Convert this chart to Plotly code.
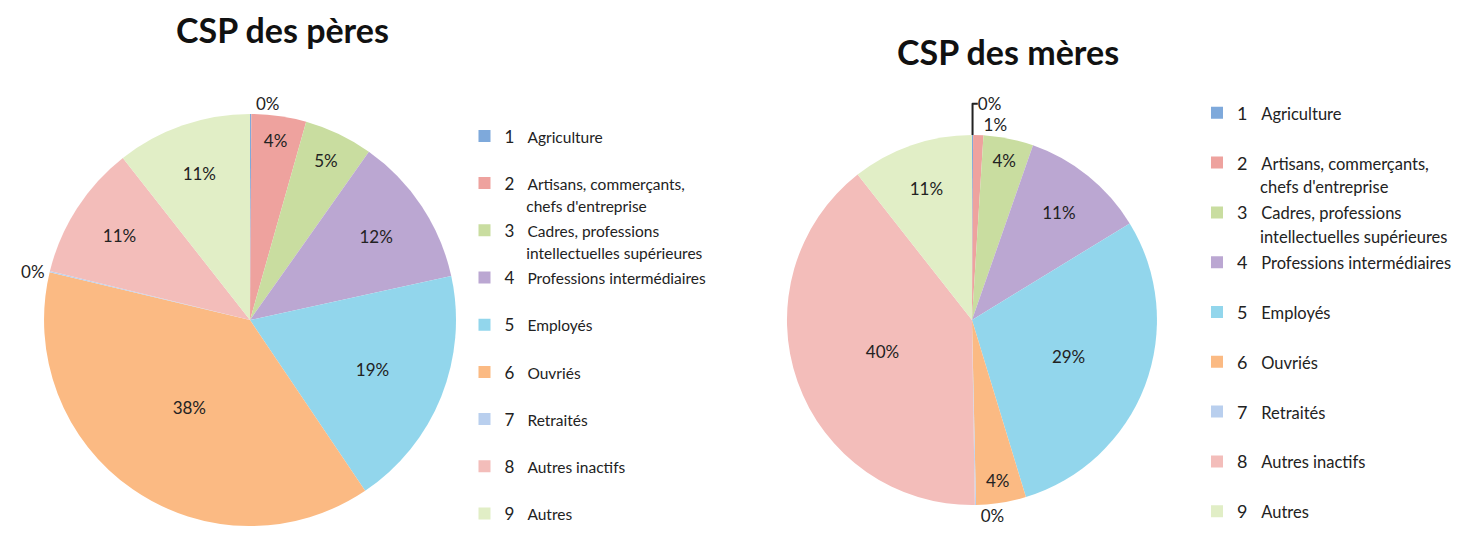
import plotly.graph_objects as go

# categories (codes + names)
codes = ["1", "2", "3", "4", "5", "6", "7", "8", "9"]
names = [
    "Agriculture",
    "Artisans, commerçants,<br>chefs d'entreprise",
    "Cadres, professions<br>intellectuelles supérieures",
    "Professions intermédiaires",
    "Employés",
    "Ouvriés",
    "Retraités",
    "Autres inactifs",
    "Autres",
]
# shares (%)
peres = [0.1, 4.3, 5.4, 11.8, 19.0, 38.2, 0.1, 10.6, 10.6]
meres = [0.1, 0.9, 4.4, 11.0, 29.3, 4.4, 0.1, 40.0, 10.7]

colors = ["#7ea9db", "#eea29e", "#c9dda0", "#bba7d2", "#92d6ec",
          "#fbba83", "#b9cfee", "#f3bdba", "#e1eec6"]

font = "Lato"


def legend_labels(num_size, txt_size):
    out = []
    for i, (c, n) in enumerate(zip(codes, names)):
        parts = n.split("<br>")
        first = (f"<span style='font-size:{num_size}px'>{c}</span>&nbsp;&nbsp;&nbsp;"
                 f"<span style='font-size:{txt_size}px'>{parts[0]}</span>")
        if len(parts) > 1:
            second = (f"<span style='font-size:{num_size}px'>&nbsp;&nbsp;&nbsp;&nbsp;&nbsp;</span>"
                      f"<span style='font-size:{txt_size}px'>{parts[1]}</span>")
            out.append(first + "<br>" + second)
        elif i < len(codes) - 1:
            out.append(first + "<br>&nbsp;")
        else:
            out.append(first)
    return out


def text_pos(vals):
    return ["outside" if v < 1 else "inside" for v in vals]


fig = go.Figure()

fig.add_trace(go.Pie(
    labels=legend_labels(17, 15.5),
    values=peres,
    sort=False,
    direction="clockwise",
    marker=dict(colors=colors, line=dict(width=0)),
    texttemplate="%{percent:.0%}",
    textposition=text_pos(peres),
    insidetextorientation="horizontal",
    textfont=dict(family=font, size=17, color="#222"),
    domain=dict(x=[0.0246, 0.3058], y=[0.0460, 0.8048]),
    legend="legend",
    hoverinfo="label+percent",
))

fig.add_trace(go.Pie(
    labels=legend_labels(18, 16.5),
    values=meres,
    sort=False,
    direction="clockwise",
    marker=dict(colors=colors, line=dict(width=0)),
    texttemplate="%{percent:.0%}",
    textposition=text_pos(meres),
    insidetextorientation="horizontal",
    textfont=dict(family=font, size=17, color="#222"),
    domain=dict(x=[0.5317, 0.7843], y=[0.0847, 0.7661]),
    legend="legend2",
    hoverinfo="label+percent",
))

fig.update_layout(
    width=1465, height=543,
    margin=dict(l=0, r=0, t=0, b=0, autoexpand=False),
    paper_bgcolor="white",
    font=dict(family=font, color="#222"),
    legend=dict(x=0.3116, y=0.7968, xanchor="left", yanchor="top",
                valign="top", maxheight=1.0, font=dict(size=17, family=font)),
    legend2=dict(x=0.8116, y=0.8405, xanchor="left", yanchor="top",
                 valign="top", maxheight=1.0, font=dict(size=18, family=font)),
    annotations=[
        dict(text="<b>CSP des pères</b>", x=0.1877, y=0.9595,
             xanchor="center", yanchor="middle",
             xref="paper", yref="paper", showarrow=False,
             font=dict(size=34, family=font, color="#111")),
        dict(text="<b>CSP des mères</b>", x=0.6826, y=0.919,
             xanchor="center", yanchor="middle",
             xref="paper", yref="paper", showarrow=False,
             font=dict(size=34, family=font, color="#111")),
    ],
)

fig.write_html("out.html")
